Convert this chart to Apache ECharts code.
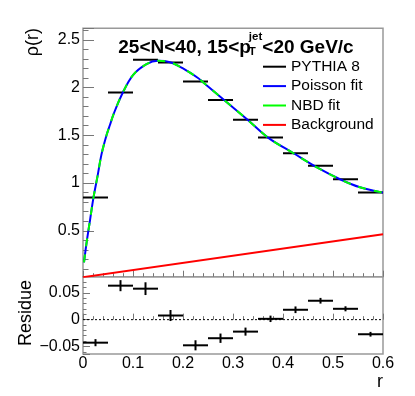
<!DOCTYPE html>
<html>
<head>
<meta charset="utf-8">
<script src="https://cdn.jsdelivr.net/npm/echarts@6/dist/echarts.min.js"></script>
<style>
html,body{margin:0;padding:0;background:#fff;}
#chart{width:415px;height:396px;}
</style>
</head>
<body>
<div id="chart"></div>
<script>
// ---- data ----
const rCenters = [0.025, 0.075, 0.125, 0.175, 0.225, 0.275, 0.325, 0.375, 0.425, 0.475, 0.525, 0.575];
const binHalfWidth = 0.025;
const rhoValues = [0.849, 1.948, 2.291, 2.262, 2.063, 1.869, 1.662, 1.477, 1.312, 1.181, 1.041, 0.901];
const residueValues = [-0.0429, 0.0633, 0.0577, 0.0077, -0.0478, -0.0346, -0.0223, 0.0015, 0.0184, 0.0352, 0.0202, -0.0272];
const residueErrors = [0.0066, 0.0103, 0.0119, 0.0103, 0.0094, 0.0087, 0.0075, 0.006, 0.0062, 0.0053, 0.0047, 0.0044];
const fitR   = [0.002, 0.007, 0.014, 0.021, 0.029, 0.037, 0.047, 0.054, 0.061, 0.079, 0.100, 0.127, 0.150, 0.174, 0.200, 0.230, 0.240, 0.284, 0.331, 0.370, 0.421, 0.467, 0.514, 0.554, 0.600];
const fitRho = [0.17, 0.37, 0.61, 0.85, 1.07, 1.30, 1.50, 1.61, 1.72, 1.94, 2.13, 2.245, 2.28, 2.265, 2.20, 2.10, 2.056, 1.861, 1.654, 1.476, 1.312, 1.166, 1.040, 0.956, 0.90];
const bgR = [0, 0.6];
const bgRho = [0.015, 0.465];
const zeroR = [0, 0.6];
const zeroVal = [0, 0];
const xTicks = [0, 0.1, 0.2, 0.3, 0.4, 0.5, 0.6];
const titleMain = '25<N<40, 15<p';
const titleSub = 'T';
const titleSup = 'jet';
const titleEnd = '<20 GeV/c';
const legendNames = ['PYTHIA 8', 'Poisson fit', 'NBD fit', 'Background'];

// ---- build ----
const FONT = '"Liberation Sans", Arial, Helvetica, sans-serif';
const zip = (a, b) => a.map((v, i) => [v, b[i]]);
const topPts = rCenters.map((r, i) => [r, rhoValues[i], 0]);
const resPts = rCenters.map((r, i) => [r, residueValues[i], residueErrors[i]]);

function errRender(params, api) {
  const x = api.value(0), y = api.value(1), ey = api.value(2);
  const l = api.coord([x - binHalfWidth, y]);
  const r = api.coord([x + binHalfWidth, y]);
  const st = {stroke: '#000', lineWidth: 2};
  const ch = [{type: 'line', shape: {x1: l[0], y1: l[1], x2: r[0], y2: r[1]}, style: st}];
  if (ey > 0) {
    const t = api.coord([x, y + ey]);
    const b = api.coord([x, y - ey]);
    ch.push({type: 'line', shape: {x1: t[0], y1: t[1], x2: b[0], y2: b[1]}, style: st});
  }
  return {type: 'group', children: ch};
}

const ctx = document.createElement('canvas').getContext('2d');
ctx.font = 'bold 19px ' + FONT;
const wMain = ctx.measureText(titleMain).width;
ctx.font = 'bold 11.5px ' + FONT;
const wSup = ctx.measureText(titleSup).width;
const tx0 = 118.3;

const tickColor = '#777';
const axisCommon = {
  axisLine: {show: false},
  splitLine: {show: false},
};

const option = {
  animation: false,
  backgroundColor: '#fff',
  grid: [
    {left: 83, top: 28.3, width: 300, height: 248.4, show: true, borderColor: '#999', borderWidth: 1.5, backgroundColor: 'transparent'},
    {left: 83, top: 276.7, width: 300, height: 77.3, show: true, borderColor: '#999', borderWidth: 1.5, backgroundColor: 'transparent'}
  ],
  xAxis: [
    Object.assign({gridIndex: 0, type: 'value', min: 0, max: 0.6, interval: 0.1,
      axisLabel: {show: false},
      axisTick: {show: true, inside: true, length: 6, lineStyle: {color: tickColor, width: 1}},
      minorTick: {show: true, splitNumber: 5, length: 3.5, lineStyle: {color: tickColor, width: 1}}
    }, axisCommon),
    Object.assign({gridIndex: 1, type: 'value', min: 0, max: 0.6, interval: 0.1,
      axisLabel: {show: true, color: '#000', fontSize: 16, fontFamily: FONT, margin: 2,
        formatter: v => { const m = xTicks.find(t => Math.abs(t - v) < 1e-9); return m === undefined ? '' : String(m); }},
      axisTick: {show: true, inside: true, length: 6, lineStyle: {color: tickColor, width: 1}},
      minorTick: {show: true, splitNumber: 5, length: 3.5, lineStyle: {color: tickColor, width: 1}}
    }, axisCommon)
  ],
  yAxis: [
    Object.assign({gridIndex: 0, type: 'value', min: 0.02, max: 2.62, splitNumber: 5,
      axisLabel: {show: true, color: '#000', fontSize: 16, fontFamily: FONT, margin: 3, showMinLabel: false, showMaxLabel: false},
      axisTick: {show: true, inside: true, length: 11, lineStyle: {color: tickColor, width: 1}},
      minorTick: {show: true, splitNumber: 5, length: 5.5, lineStyle: {color: tickColor, width: 1}}
    }, axisCommon),
    Object.assign({gridIndex: 1, type: 'value', min: -0.064, max: 0.08, splitNumber: 3,
      axisLabel: {show: true, color: '#000', fontSize: 16, fontFamily: FONT, margin: 3, showMinLabel: false, showMaxLabel: false,
        formatter: v => v < 0 ? '\u2212' + String(Math.abs(+v.toFixed(3))) : String(+v.toFixed(3))},
      axisTick: {show: true, inside: true, length: 7, lineStyle: {color: tickColor, width: 1}},
      minorTick: {show: true, splitNumber: 5, length: 3.5, lineStyle: {color: tickColor, width: 1}}
    }, axisCommon)
  ],
  legend: {
    orient: 'vertical', left: 263, top: 58.7, padding: 0,
    icon: 'rect', itemWidth: 23, itemHeight: 2, itemGap: 3.4,
    textStyle: {color: '#000', fontSize: 15.5, fontFamily: FONT, lineHeight: 16},
    data: legendNames
  },
  series: [
    {name: legendNames[0], type: 'custom', xAxisIndex: 0, yAxisIndex: 0, renderItem: errRender,
     data: topPts, encode: {x: 0, y: 1}, itemStyle: {color: '#000'}, clip: true, z: 2},
    {name: legendNames[3], type: 'line', xAxisIndex: 0, yAxisIndex: 0, data: zip(bgR, bgRho),
     showSymbol: false, lineStyle: {color: '#ff0000', width: 2}, itemStyle: {color: '#ff0000'}, clip: true, z: 3},
    {name: legendNames[1], type: 'line', xAxisIndex: 0, yAxisIndex: 0, data: zip(fitR, fitRho), smooth: 0.35,
     showSymbol: false, lineStyle: {color: '#0000ff', width: 2}, itemStyle: {color: '#0000ff'}, clip: true, z: 4},
    {name: legendNames[2], type: 'line', xAxisIndex: 0, yAxisIndex: 0, data: zip(fitR, fitRho), smooth: 0.35,
     showSymbol: false, lineStyle: {color: '#00ff00', width: 2, type: [8, 8]}, itemStyle: {color: '#00ff00'}, clip: true, z: 5},
    {name: 'zero', type: 'line', xAxisIndex: 1, yAxisIndex: 1, data: zip(zeroR, zeroVal),
     showSymbol: false, lineStyle: {color: '#000', width: 1, type: [2, 2]}, z: 2},
    {name: 'residue', type: 'custom', xAxisIndex: 1, yAxisIndex: 1, renderItem: errRender,
     data: resPts, encode: {x: 0, y: 1}, itemStyle: {color: '#000'}, z: 3}
  ],
  graphic: [
    {type: 'text', x: tx0, y: 48.2, style: {text: titleMain, font: 'bold 19px ' + FONT, fill: '#000', align: 'left', verticalAlign: 'middle'}},
    {type: 'text', x: tx0 + wMain - 2, y: 51.8, style: {text: titleSub, font: 'bold 11.5px ' + FONT, fill: '#000', align: 'left', verticalAlign: 'middle'}},
    {type: 'text', x: tx0 + wMain - 2, y: 37, style: {text: titleSup, font: 'bold 11.5px ' + FONT, fill: '#000', align: 'left', verticalAlign: 'middle'}},
    {type: 'text', x: tx0 + wMain - 2 + wSup, y: 48.2, style: {text: titleEnd, font: 'bold 19px ' + FONT, fill: '#000', align: 'left', verticalAlign: 'middle'}},
    {type: 'text', x: 33, y: 28, rotation: Math.PI / 2, style: {text: '\u03c1(r)', font: '18px ' + FONT, fill: '#000', align: 'right', verticalAlign: 'middle'}},
    {type: 'text', x: 26, y: 280, rotation: Math.PI / 2, style: {text: 'Residue', font: '18px ' + FONT, fill: '#000', align: 'right', verticalAlign: 'middle'}},
    {type: 'text', x: 383, y: 382, style: {text: 'r', font: '18px ' + FONT, fill: '#000', align: 'right', verticalAlign: 'middle'}}
  ]
};

const chart = echarts.init(document.getElementById('chart'), null, {renderer: 'canvas'});
chart.setOption(option);
</script>
</body>
</html>
